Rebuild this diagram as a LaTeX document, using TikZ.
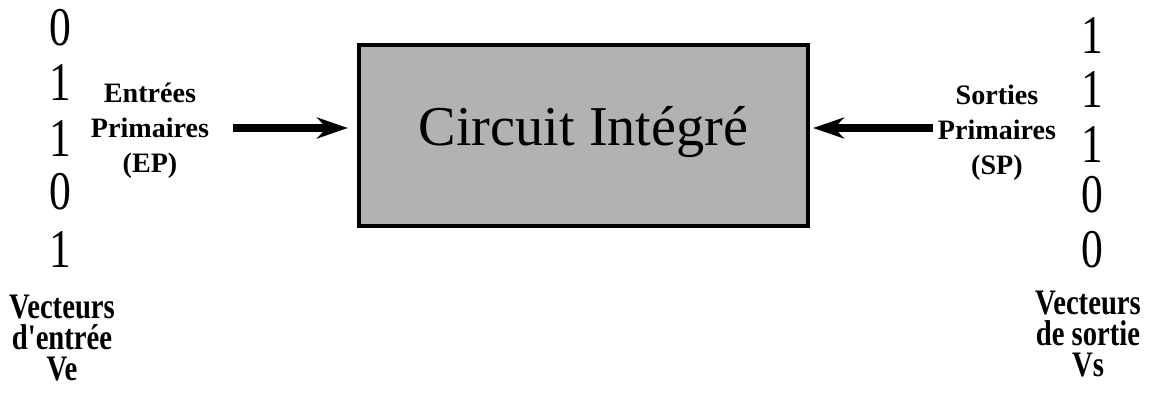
\documentclass[tikz,border=0pt]{standalone}
\usepackage{fontspec}
\setmainfont{Liberation Serif}
\usepackage{tikz}
\usetikzlibrary{arrows.meta, positioning}

\newcommand{\squeeze}[1]{\scalebox{0.8}[1]{#1}}
\newcommand{\vecstack}[3]{\squeeze{\vbox{\baselineskip=8.8pt\lineskiplimit=-5pt\halign{\hfil##\hfil\cr #1\cr #2\cr #3\cr}}}}

\begin{document}
\begin{tikzpicture}[
    digit/.style={inner sep=0pt, font=\fontsize{15.5}{18}\selectfont},
    port/.style={inner sep=0pt, align=center, font=\fontsize{8}{10}\selectfont\bfseries},
    vec/.style={inner sep=0pt, font=\fontsize{10.2}{8.8}\selectfont\bfseries},
    chip/.style={draw, line width=1.2pt, fill=black!30, minimum width=4.49cm, minimum height=1.81cm, text depth=5.2pt, font=\fontsize{16}{19}\selectfont},
    bus/.style={line width=2.3pt, -{Stealth[length=3.1mm, width=2.1mm, inset=1mm]}},
]
\useasboundingbox (0,0) rectangle (11.51,3.92);

% === CIRCUIT ===
\node[chip] (chip) at (5.835, 2.565) {Circuit Intégré};

% === INPUT SIDE ===
% Input vector Ve
\node[digit] (ve_b1) at (0.60, 3.64) {\squeeze{0}};
\node[digit] (ve_b2) at (0.60, 3.09) {\squeeze{1}};
\node[digit] (ve_b3) at (0.60, 2.53) {\squeeze{1}};
\node[digit] (ve_b4) at (0.60, 2.00) {\squeeze{0}};
\node[digit] (ve_b5) at (0.60, 1.42) {\squeeze{1}};

\node[vec] (ve_name) at (0.62, 0.54) {\vecstack{Vecteurs}{d\textquotesingle entrée}{Ve}};

% Primary inputs
\node[port] (ep) at (1.50, 2.61) {Entrées\\Primaires\\(EP)};
\coordinate (ep_tail) at (2.33, 2.64);
\draw[bus, shorten >=0.09cm] (ep_tail) -- (ep_tail -| chip.west);

% === OUTPUT SIDE ===
% Output vector Vs
\node[digit] (vs_b1) at (10.92, 3.56) {\squeeze{1}};
\node[digit] (vs_b2) at (10.92, 3.02) {\squeeze{1}};
\node[digit] (vs_b3) at (10.92, 2.47) {\squeeze{1}};
\node[digit] (vs_b4) at (10.92, 1.97) {\squeeze{0}};
\node[digit] (vs_b5) at (10.92, 1.42) {\squeeze{0}};

\node[vec] (vs_name) at (10.88, 0.58) {\vecstack{Vecteurs}{de sortie}{Vs}};

% Primary outputs
\node[port] (sp) at (9.97, 2.59) {Sorties\\Primaires\\(SP)};
\coordinate (sp_tail) at (9.33, 2.64);
\draw[bus, shorten >=0.03cm] (sp_tail) -- (sp_tail -| chip.east);

\end{tikzpicture}
\end{document}
